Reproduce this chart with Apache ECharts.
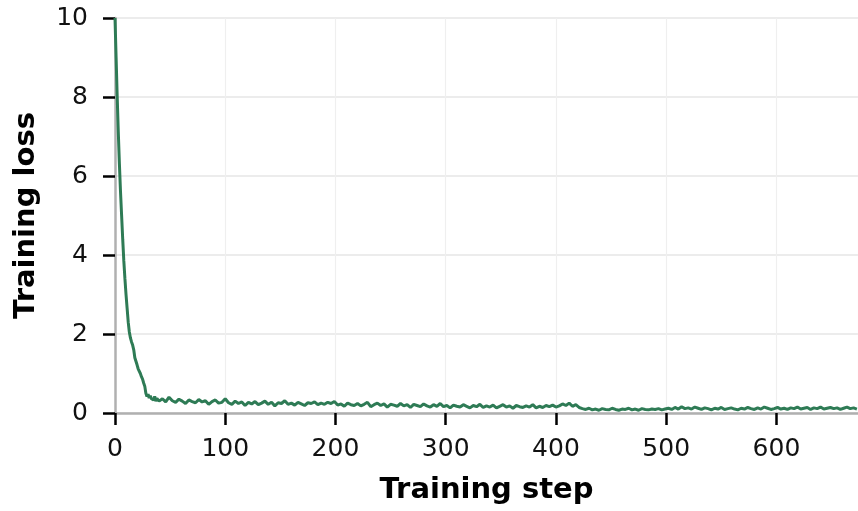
<!DOCTYPE html>
<html>
<head>
<meta charset="utf-8">
<script src="https://cdn.jsdelivr.net/npm/echarts@6/dist/echarts.min.js"></script>
<style>
html,body{margin:0;padding:0;background:#fff;}
#chart{width:858px;height:511px;}
</style>
</head>
<body>
<div id="chart"></div>
<script>
// Training steps (x values)
const steps = [
  0,1,2,3,4,5,6,7,8,9,10,11,12,13,14,15,16,17,18,19,20,
  21,22,23,24,25,26,27,28,29,30,31,32,33,34,35,36,37,38,39,40,
  43,46,49,52,55,58,61,64,67,70,
  73,76,79,82,85,88,91,94,97,100,
  103,106,109,112,115,118,121,124,127,130,
  133,136,139,142,145,148,151,154,157,160,
  163,166,169,172,175,178,181,184,187,190,
  193,196,199,202,205,208,211,214,217,220,
  223,226,229,232,235,238,241,244,247,250,
  253,256,259,262,265,268,271,274,277,280,
  283,286,289,292,295,298,301,304,307,310,
  313,316,319,322,325,328,331,334,337,340,
  343,346,349,352,355,358,361,364,367,370,
  373,376,379,382,385,388,391,394,397,400,
  403,406,409,412,415,418,421,424,427,430,
  433,436,439,442,445,448,451,454,457,460,
  463,466,469,472,475,478,481,484,487,490,
  493,496,499,502,505,508,511,514,517,520,
  523,526,529,532,535,538,541,544,547,550,
  553,556,559,562,565,568,571,574,577,580,
  583,586,589,592,595,598,601,604,607,610,
  613,616,619,622,625,628,631,634,637,640,
  643,646,649,652,655,658,661,664,667,670,
  673
];
// Training loss (y values)
const loss = [
  10.0,9.0,8.0,7.1,6.3,5.6,5.0,4.4,3.85,3.4,3.0,2.65,2.3,2.05,1.9,1.8,1.72,1.6,1.4,1.36,1.22,
  1.12,1.15,1.0,0.92,0.86,0.76,0.68,0.5,0.42,0.48,0.38,0.44,0.36,0.4,0.33,0.42,0.3,0.37,0.35,0.3,
  0.36,0.28,0.40,0.31,0.27,0.35,0.30,0.24,0.33,0.29,
  0.26,0.34,0.28,0.31,0.22,0.29,0.33,0.25,0.27,0.36,
  0.26,0.22,0.30,0.24,0.28,0.19,0.27,0.23,0.29,0.21,
  0.25,0.30,0.22,0.27,0.18,0.26,0.24,0.31,0.22,0.25,
  0.20,0.27,0.23,0.19,0.26,0.24,0.28,0.21,0.25,0.22,
  0.27,0.24,0.29,0.20,0.23,0.17,0.25,0.21,0.19,0.24,
  0.18,0.22,0.27,0.16,0.21,0.25,0.19,0.23,0.15,0.22,
  0.20,0.17,0.24,0.18,0.21,0.14,0.22,0.19,0.16,0.23,
  0.18,0.15,0.21,0.17,0.24,0.16,0.19,0.13,0.20,0.17,
  0.15,0.21,0.17,0.13,0.19,0.16,0.22,0.14,0.18,0.15,
  0.20,0.13,0.17,0.21,0.15,0.18,0.12,0.19,0.16,0.14,
  0.18,0.15,0.21,0.13,0.17,0.14,0.19,0.16,0.20,0.15,
  0.18,0.23,0.19,0.25,0.17,0.21,0.14,0.11,0.09,0.12,
  0.08,0.10,0.07,0.11,0.09,0.08,0.12,0.09,0.07,0.10,
  0.09,0.12,0.08,0.10,0.07,0.11,0.09,0.08,0.10,0.09,
  0.11,0.08,0.10,0.12,0.09,0.14,0.10,0.16,0.11,0.13,
  0.10,0.15,0.12,0.09,0.13,0.11,0.08,0.12,0.10,0.14,
  0.09,0.11,0.13,0.10,0.08,0.12,0.10,0.14,0.11,0.09,
  0.13,0.10,0.15,0.12,0.09,0.11,0.14,0.10,0.12,0.09,
  0.13,0.11,0.15,0.10,0.12,0.14,0.09,0.13,0.11,0.15,
  0.10,0.12,0.14,0.11,0.13,0.09,0.12,0.15,0.11,0.13,
  0.10
];
const xTitle = "Training step";
const yTitle = "Training loss";

const chart = echarts.init(document.getElementById('chart'), null, {renderer: 'canvas'});
const font = "DejaVu Sans";
chart.setOption({
  animation: false,
  backgroundColor: '#ffffff',
  grid: {left: 115, right: 0, top: 18, bottom: 98, containLabel: false},
  xAxis: {
    type: 'value', min: 0, max: 674, interval: 100,
    name: xTitle, nameLocation: 'middle', nameGap: 63,
    nameTextStyle: {fontFamily: font, fontSize: 29, fontWeight: 'bold', color: '#000'},
    axisLine: {show: true, onZero: false, lineStyle: {color: '#b0b0b0', width: 2.5}},
    axisTick: {show: true, length: 12, lineStyle: {color: '#000', width: 2.5}},
    axisLabel: {fontFamily: font, fontSize: 25, color: '#111', margin: 24, showMaxLabel: false},
    splitLine: {show: true, lineStyle: {color: '#efefef', width: 1.2}}
  },
  yAxis: {
    type: 'value', min: 0, max: 10, interval: 2,
    name: yTitle, nameLocation: 'middle', nameGap: 74, nameRotate: 90,
    nameTextStyle: {fontFamily: font, fontSize: 29, fontWeight: 'bold', color: '#000'},
    axisLine: {show: true, lineStyle: {color: '#b0b0b0', width: 2.5}},
    axisTick: {show: true, length: 12, lineStyle: {color: '#000', width: 2.5}},
    axisLabel: {fontFamily: font, fontSize: 25, color: '#111', margin: 27},
    splitLine: {show: true, lineStyle: {color: '#e6e6e6', width: 1.6}}
  },
  series: [{
    type: 'line',
    data: steps.map((s, i) => [s, loss[i]]),
    showSymbol: false,
    lineStyle: {color: '#2e7b55', width: 3},
    itemStyle: {color: '#2e7b55'},
    clip: true
  }]
});
</script>
</body>
</html>
